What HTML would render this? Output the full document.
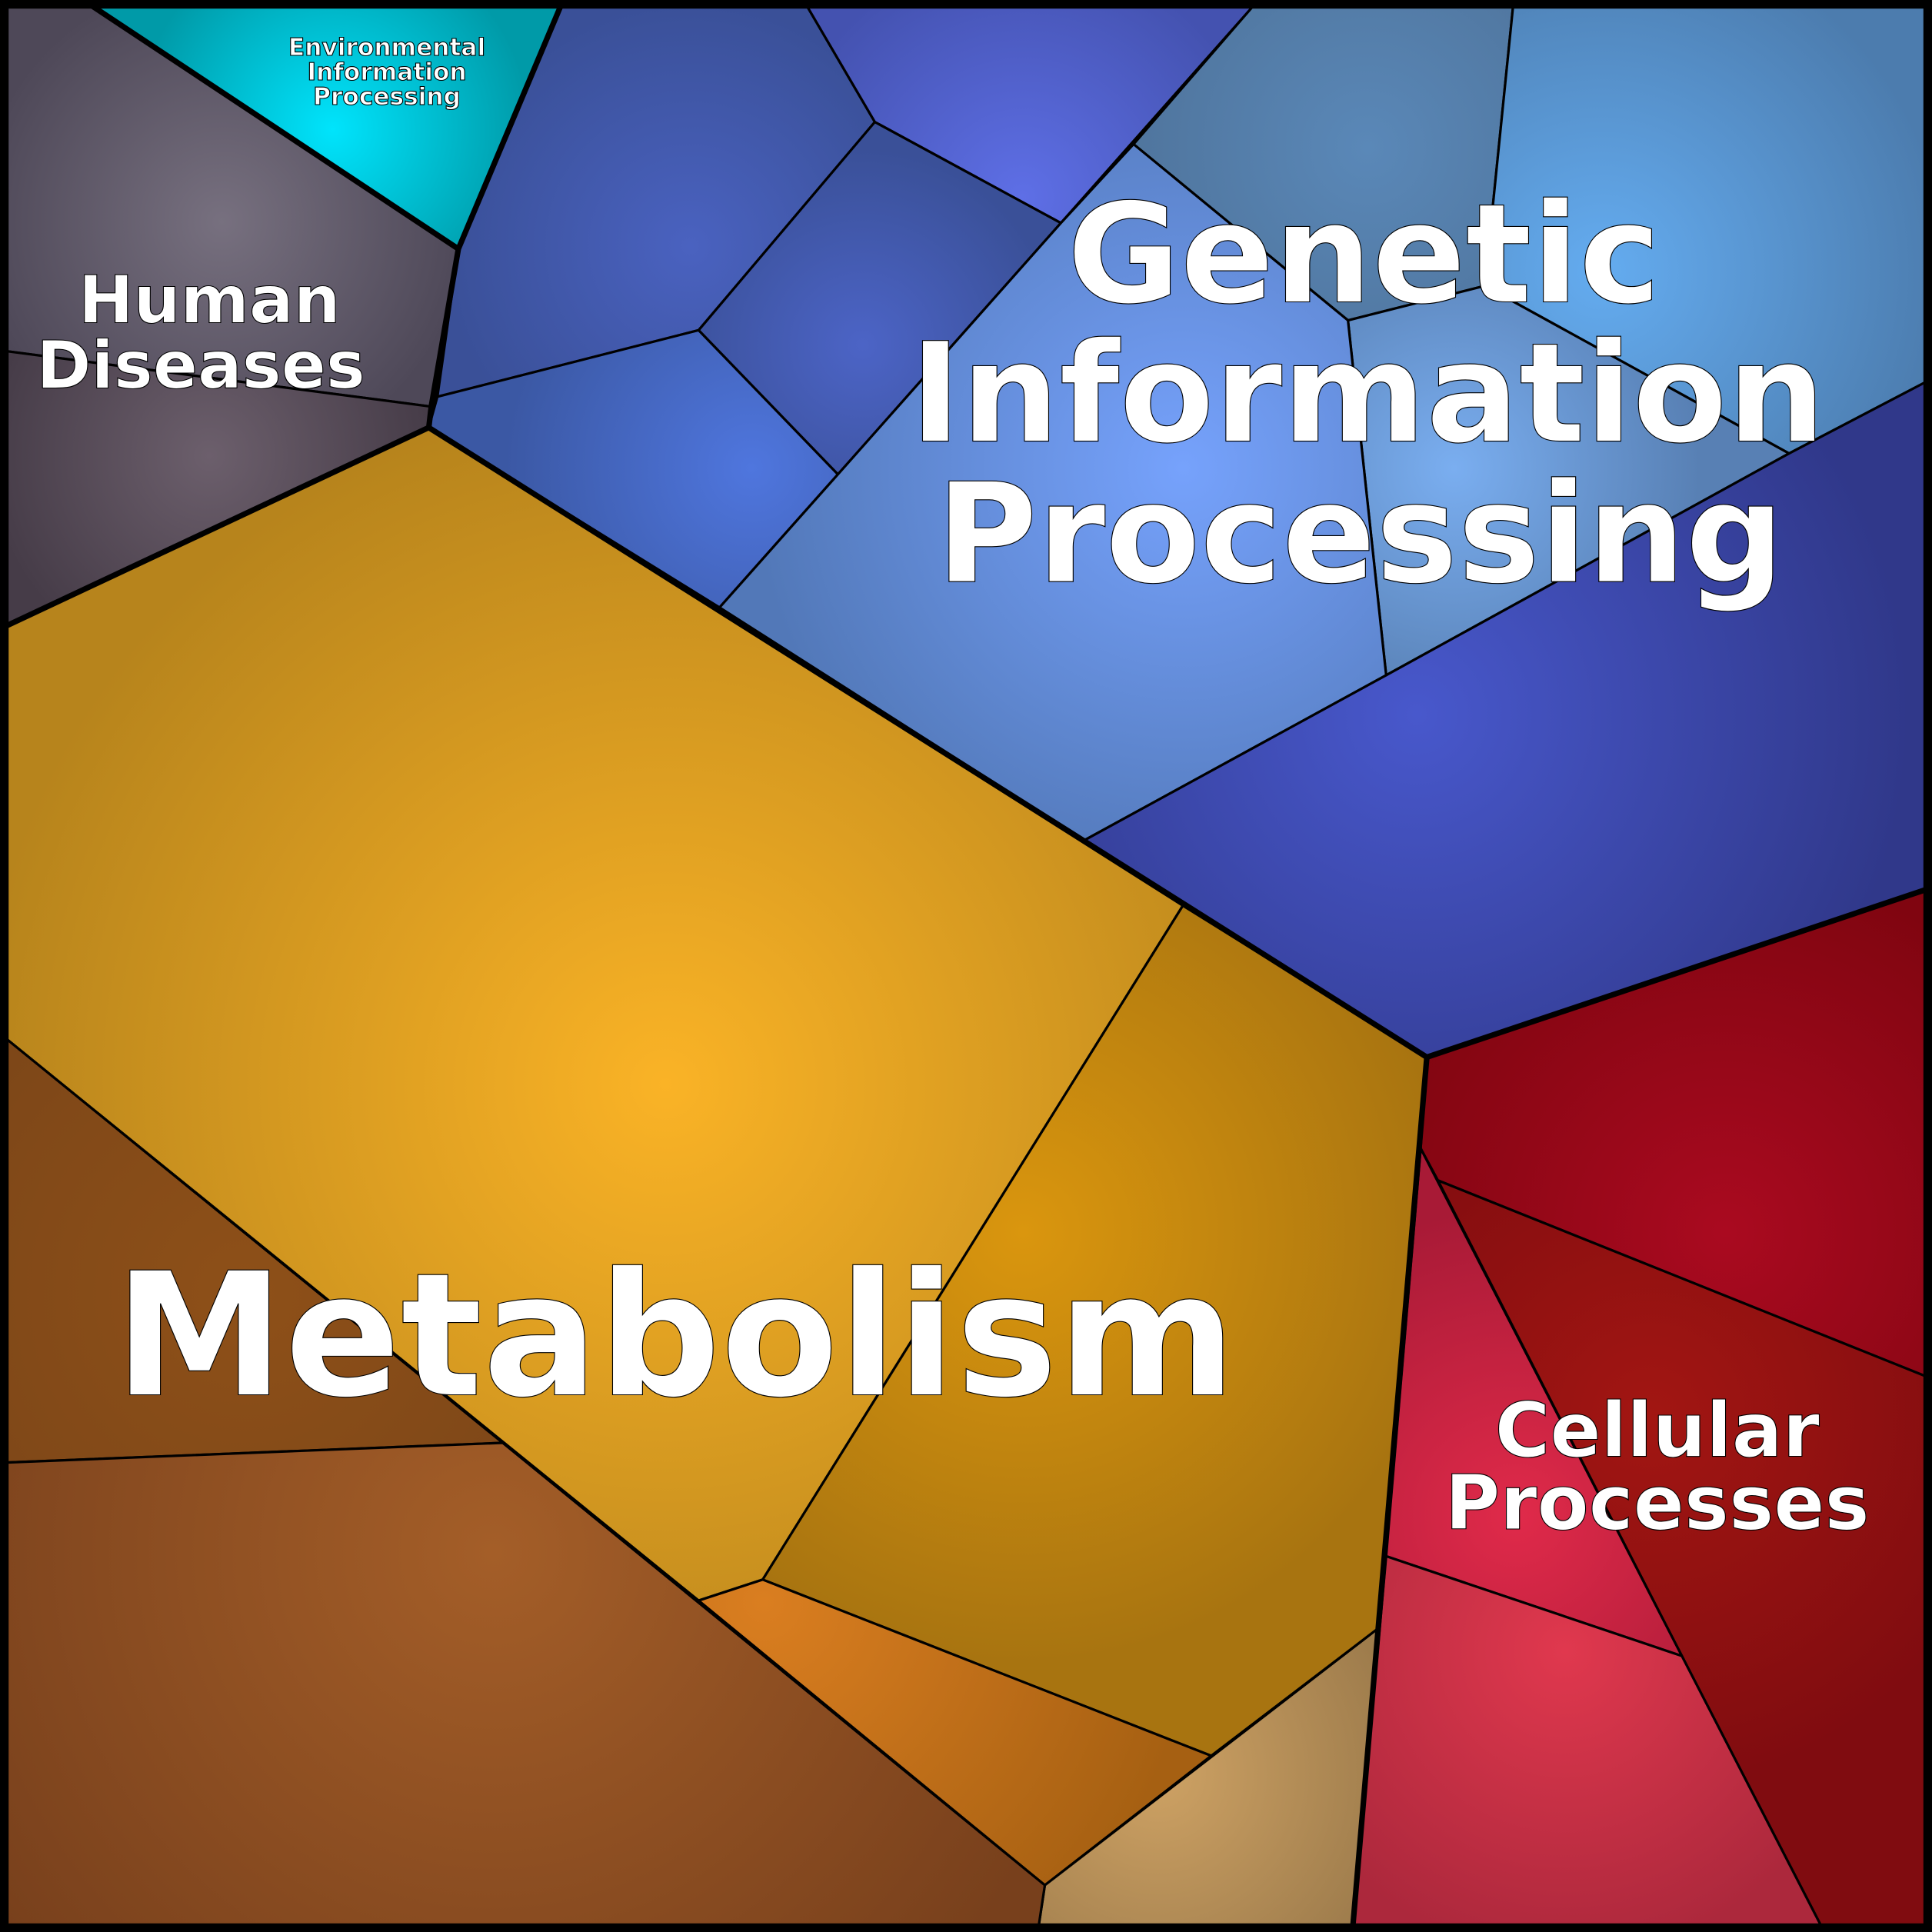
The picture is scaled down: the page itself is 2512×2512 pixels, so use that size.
<!DOCTYPE html>
<html><head><meta charset="utf-8"><style>html,body{margin:0;padding:0;background:#000}svg{display:block}</style></head><body>
<svg width="2512" height="2512" viewBox="0 0 1568 1568" xmlns="http://www.w3.org/2000/svg">
<defs>
<radialGradient id="env" cx="270" cy="105" r="160" gradientUnits="userSpaceOnUse"><stop offset="0" stop-color="#00e4fc"/><stop offset="1" stop-color="#009aa8"/></radialGradient>
<radialGradient id="hd1" cx="180" cy="180" r="200" gradientUnits="userSpaceOnUse"><stop offset="0" stop-color="#77707f"/><stop offset="1" stop-color="#4e4858"/></radialGradient>
<radialGradient id="hd2" cx="170" cy="370" r="180" gradientUnits="userSpaceOnUse"><stop offset="0" stop-color="#6c5f6c"/><stop offset="1" stop-color="#463c48"/></radialGradient>
<radialGradient id="bA" cx="560" cy="200" r="200" gradientUnits="userSpaceOnUse"><stop offset="0" stop-color="#4a62c0"/><stop offset="1" stop-color="#3a5098"/></radialGradient>
<radialGradient id="bB" cx="830" cy="160" r="200" gradientUnits="userSpaceOnUse"><stop offset="0" stop-color="#5e6fe6"/><stop offset="1" stop-color="#4452b0"/></radialGradient>
<radialGradient id="bC" cx="700" cy="280" r="160" gradientUnits="userSpaceOnUse"><stop offset="0" stop-color="#4c64c6"/><stop offset="1" stop-color="#3a5098"/></radialGradient>
<radialGradient id="bD" cx="610" cy="380" r="200" gradientUnits="userSpaceOnUse"><stop offset="0" stop-color="#4f76de"/><stop offset="1" stop-color="#3b58a4"/></radialGradient>
<radialGradient id="gE" cx="1110" cy="120" r="200" gradientUnits="userSpaceOnUse"><stop offset="0" stop-color="#5a88b8"/><stop offset="1" stop-color="#4f749c"/></radialGradient>
<radialGradient id="gF" cx="1300" cy="220" r="280" gradientUnits="userSpaceOnUse"><stop offset="0" stop-color="#64acf0"/><stop offset="1" stop-color="#4c7cae"/></radialGradient>
<radialGradient id="gG" cx="1180" cy="380" r="200" gradientUnits="userSpaceOnUse"><stop offset="0" stop-color="#7aaef0"/><stop offset="1" stop-color="#5880b4"/></radialGradient>
<radialGradient id="gH" cx="960" cy="380" r="350" gradientUnits="userSpaceOnUse"><stop offset="0" stop-color="#76a2fc"/><stop offset="1" stop-color="#5278b8"/></radialGradient>
<radialGradient id="gI" cx="1150" cy="580" r="400" gradientUnits="userSpaceOnUse"><stop offset="0" stop-color="#4858cc"/><stop offset="1" stop-color="#30388a"/></radialGradient>
<radialGradient id="m1" cx="540" cy="880" r="560" gradientUnits="userSpaceOnUse"><stop offset="0" stop-color="#fab326"/><stop offset="1" stop-color="#b7841c"/></radialGradient>
<radialGradient id="m2" cx="830" cy="1000" r="350" gradientUnits="userSpaceOnUse"><stop offset="0" stop-color="#da960e"/><stop offset="1" stop-color="#a87410"/></radialGradient>
<radialGradient id="m3" cx="620" cy="1300" r="350" gradientUnits="userSpaceOnUse"><stop offset="0" stop-color="#da7e20"/><stop offset="1" stop-color="#a66012"/></radialGradient>
<radialGradient id="m4" cx="940" cy="1440" r="200" gradientUnits="userSpaceOnUse"><stop offset="0" stop-color="#cea264"/><stop offset="1" stop-color="#9e7c4c"/></radialGradient>
<radialGradient id="m5" cx="200" cy="1050" r="300" gradientUnits="userSpaceOnUse"><stop offset="0" stop-color="#8e5018"/><stop offset="1" stop-color="#7c4618"/></radialGradient>
<radialGradient id="m6" cx="400" cy="1260" r="500" gradientUnits="userSpaceOnUse"><stop offset="0" stop-color="#a45e28"/><stop offset="1" stop-color="#78401c"/></radialGradient>
<radialGradient id="c1" cx="1400" cy="1000" r="300" gradientUnits="userSpaceOnUse"><stop offset="0" stop-color="#aa0a20"/><stop offset="1" stop-color="#800510"/></radialGradient>
<radialGradient id="c2" cx="1340" cy="1150" r="300" gradientUnits="userSpaceOnUse"><stop offset="0" stop-color="#a21612"/><stop offset="1" stop-color="#800c10"/></radialGradient>
<radialGradient id="c3" cx="1230" cy="1230" r="250" gradientUnits="userSpaceOnUse"><stop offset="0" stop-color="#e02a4a"/><stop offset="1" stop-color="#a81a36"/></radialGradient>
<radialGradient id="c4" cx="1270" cy="1340" r="250" gradientUnits="userSpaceOnUse"><stop offset="0" stop-color="#e0384e"/><stop offset="1" stop-color="#ac283c"/></radialGradient>
</defs>
<g stroke="#000" stroke-width="2" stroke-linejoin="round">
<polygon fill="url(#hd1)" points="5,5 75,5 372,202 350,330 5,285"/>
<polygon fill="url(#hd2)" points="5,285 350,330 348,347 5,508"/>
<polygon fill="url(#env)" points="75,5 455,5 372,202"/>
<polygon fill="url(#bA)" points="455,5 655,5 710,99 567,268 355,322 372,202"/>
<polygon fill="url(#bB)" points="655,5 1017,5 861,181 710,99"/>
<polygon fill="url(#bC)" points="710,99 861,181 680,385 567,268"/>
<polygon fill="url(#bD)" points="355,322 567,268 680,385 584,493 348,347"/>
<polygon fill="url(#gE)" points="920,117 1017,5 1228,5 1205,232 1094,260"/>
<polygon fill="url(#gF)" points="1228,5 1563,5 1563,310 1452,368 1205,232"/>
<polygon fill="url(#gG)" points="1094,260 1205,232 1452,368 1125,548"/>
<polygon fill="url(#gH)" points="584,493 680,385 861,181 920,117 1094,260 1125,548 880,682"/>
<polygon fill="url(#gI)" points="880,682 1125,548 1452,368 1563,310 1563,722 1158,858"/>
<polygon fill="url(#m1)" points="5,508 348,347 960,735 619,1282 567,1299 5,843"/>
<polygon fill="url(#m2)" points="960,735 1158,858 1118,1322 983,1425 619,1282"/>
<polygon fill="url(#m3)" points="567,1299 619,1282 983,1425 848,1530"/>
<polygon fill="url(#m4)" points="848,1530 1118,1322 1098,1563 843,1563"/>
<polygon fill="url(#m5)" points="5,843 408,1171 5,1187"/>
<polygon fill="url(#m6)" points="5,1187 408,1171 848,1530 843,1563 5,1563"/>
<polygon fill="url(#c1)" points="1158,858 1563,722 1563,1117 1167,958 1153,932"/>
<polygon fill="url(#c2)" points="1167,958 1563,1117 1563,1563 1478,1563 1365,1344"/>
<polygon fill="url(#c3)" points="1153,932 1365,1344 1125,1263"/>
<polygon fill="url(#c4)" points="1125,1263 1365,1344 1478,1563 1098,1563"/>
</g>
<g fill="none" stroke="#000" stroke-width="4.5" stroke-linejoin="round">
<polyline points="75,5 372,202 350,330 348,347 5,508"/>
<polyline points="455,5 372,202"/>
<polyline points="348,347 1158,858 1563,722"/>
<polyline points="1158,858 1098,1563"/>
</g>
<rect x="3.5" y="3.5" width="1561" height="1561" fill="none" stroke="#000" stroke-width="7"/>
<g font-family="'DejaVu Sans','Liberation Sans',sans-serif" font-weight="bold" fill="#fff" stroke="#000" stroke-width="0.7" text-anchor="middle">
<text font-size="19.5" x="314" y="45">Environmental</text>
<text font-size="19.5" x="314" y="65">Information</text>
<text font-size="19.5" x="314" y="85">Processing</text>
<text font-size="53.5" x="170" y="262">Human</text>
<text font-size="53.5" x="163" y="315">Diseases</text>
<text font-size="112" x="1107" y="245">Genetic</text>
<text font-size="112" x="1110" y="358">Information</text>
<text font-size="112" x="1104" y="472">Processing</text>
<text font-size="139" x="548" y="1132">Metabolism</text>
<text font-size="61" x="1345" y="1182">Cellular</text>
<text font-size="61" x="1345" y="1241">Processes</text>
</g>
</svg>
</body></html>
